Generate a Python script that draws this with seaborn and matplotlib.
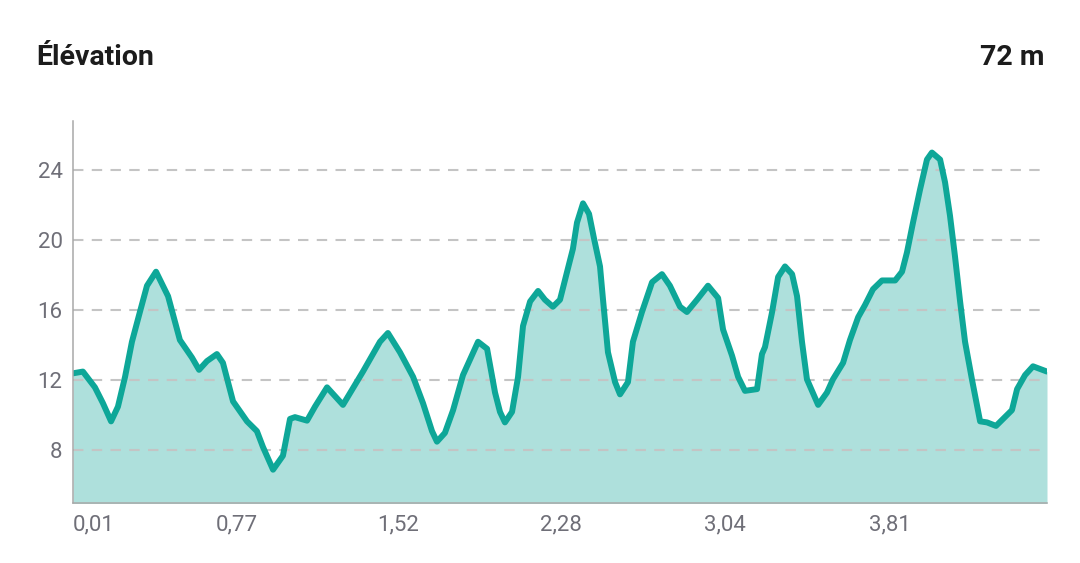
import matplotlib
matplotlib.use("Agg")
import matplotlib.pyplot as plt
import seaborn as sns
import pandas as pd

# Distance (km) and elevation (m)
distance_km = [0.010, 0.056, 0.112, 0.149, 0.187, 0.219, 0.252, 0.284, 0.321, 0.354,
               0.396, 0.452, 0.507, 0.563, 0.596, 0.633, 0.679, 0.707, 0.754, 0.819,
               0.865, 0.893, 0.940, 0.986, 1.019, 1.042, 1.098, 1.135, 1.191, 1.265,
               1.358, 1.437, 1.474, 1.530, 1.591, 1.637, 1.679, 1.702, 1.739, 1.777,
               1.823, 1.893, 1.935, 1.972, 1.995, 2.018, 2.051, 2.079, 2.102, 2.135,
               2.172, 2.204, 2.241, 2.274, 2.307, 2.334, 2.353, 2.381, 2.409, 2.432,
               2.460, 2.474, 2.497, 2.530, 2.553, 2.590, 2.613, 2.655, 2.702, 2.748,
               2.785, 2.832, 2.864, 2.911, 2.962, 3.009, 3.032, 3.074, 3.102, 3.134,
               3.190, 3.213, 3.227, 3.260, 3.288, 3.320, 3.353, 3.376, 3.399, 3.422,
               3.474, 3.515, 3.543, 3.590, 3.622, 3.660, 3.692, 3.729, 3.771, 3.832,
               3.864, 3.887, 3.915, 3.948, 3.980, 4.003, 4.041, 4.064, 4.087, 4.110,
               4.134, 4.157, 4.189, 4.227, 4.259, 4.301, 4.375, 4.399, 4.436, 4.473,
               4.538]
elevation_m = [12.4, 12.5, 11.6, 10.7, 9.66, 10.5, 12.2, 14.2, 15.9, 17.4,
               18.2, 16.8, 14.3, 13.3, 12.6, 13.1, 13.5, 13.0, 10.8, 9.66,
               9.1, 8.2, 6.9, 7.7, 9.8, 9.9, 9.7, 10.5, 11.6, 10.6,
               12.5, 14.2, 14.7, 13.6, 12.2, 10.7, 9.1, 8.5, 9.0, 10.3,
               12.3, 14.2, 13.8, 11.3, 10.2, 9.6, 10.2, 12.2, 15.1, 16.5,
               17.1, 16.6, 16.2, 16.6, 18.2, 19.5, 21.0, 22.1, 21.5, 20.1,
               18.5, 16.6, 13.6, 11.9, 11.2, 11.9, 14.2, 15.9, 17.6, 18.06,
               17.4, 16.2, 15.9, 16.6, 17.4, 16.7, 14.9, 13.4, 12.2, 11.4,
               11.5, 13.5, 13.9, 15.9, 17.9, 18.5, 18.06, 16.8, 14.2, 12.06,
               10.6, 11.3, 12.06, 13.0, 14.3, 15.6, 16.3, 17.2, 17.7, 17.7,
               18.2, 19.3, 21.0, 22.9, 24.6, 25.0, 24.6, 23.3, 21.4, 19.1,
               16.5, 14.2, 12.06, 9.66, 9.6, 9.4, 10.3, 11.5, 12.3, 12.8,
               12.5]
x_ticks = [0.01, 0.77, 1.52, 2.28, 3.04, 3.81]
x_tick_labels = ["0,01", "0,77", "1,52", "2,28", "3,04", "3,81"]
y_ticks = [8, 12, 16, 20, 24]
title_text = "Élévation"
value_text = "72 m"

df = pd.DataFrame({"distance": distance_km, "elevation": elevation_m})

sns.set_theme(style="white")
plt.rcParams["font.family"] = ["Roboto", "DejaVu Sans"]

LINE = "#0ea798"
FILL = "#aee0dc"
TICK = "#6f6f78"

fig = plt.figure(figsize=(10.8, 5.63), dpi=100)
ax = fig.add_axes([73 / 1080, 1 - 503 / 563, (1047 - 73) / 1080, (503 - 121) / 563])

ax.fill_between(df["distance"], df["elevation"], 0, color=FILL, linewidth=0, zorder=1)
sns.lineplot(data=df, x="distance", y="elevation", ax=ax, color=LINE, linewidth=4.3,
             solid_joinstyle="round", solid_capstyle="round", zorder=3, sort=False)

ax.set_xlim(0.01, 4.538)
ax.set_ylim(5, 26.8)
ax.set_yticks(y_ticks)
ax.set_yticklabels([str(v) for v in y_ticks])
ax.set_xticks(x_ticks)
ax.set_xticklabels(x_tick_labels)
ax.get_xticklabels()[0].set_horizontalalignment("left")
ax.set_xlabel("")
ax.set_ylabel("")

ax.set_axisbelow(False)
ax.yaxis.grid(True, color="#c4c4c4", linewidth=1.5, linestyle=(0, (5, 4)), zorder=2)
ax.xaxis.grid(False)

ax.tick_params(axis="both", length=0, labelsize=16, labelcolor=TICK)
ax.tick_params(axis="y", pad=7.5)
ax.tick_params(axis="x", pad=8)

for side in ["top", "right"]:
    ax.spines[side].set_visible(False)
for side in ["left", "bottom"]:
    ax.spines[side].set_color("#a8a8a8")
    ax.spines[side].set_linewidth(1.1)
    ax.spines[side].set_zorder(4)

fig.text(36 / 1080, 1 - 65 / 563, title_text, fontsize=20.5, fontweight="bold",
         color="#1c1c1c", ha="left", va="baseline")
fig.text(1045 / 1080, 1 - 65 / 563, value_text, fontsize=20.5, fontweight="bold",
         color="#1c1c1c", ha="right", va="baseline")

fig.savefig("out.png", dpi=100, facecolor="white")
